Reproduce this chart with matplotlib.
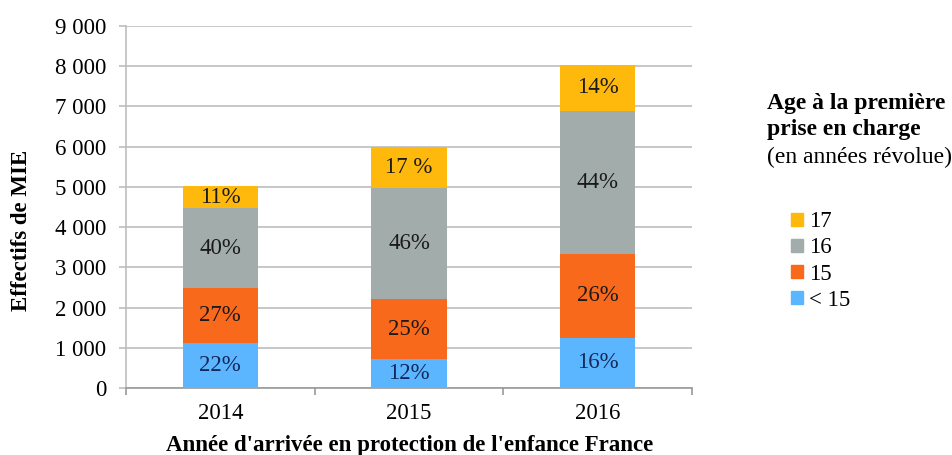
import numpy as np
import matplotlib.pyplot as plt
from matplotlib.patches import Patch

plt.rcParams['font.family'] = ['Liberation Serif', 'DejaVu Serif']

annees = ['2014', '2015', '2016']
moins_15 = [1130, 720, 1250]
age_15 = [1360, 1490, 2080]
age_16 = [1980, 2770, 3560]
age_17 = [550, 1010, 1150]
series = [moins_15, age_15, age_16, age_17]
noms = ['< 15', '15', '16', '17']
pourcents = [['22%', '12%', '16%'],
             ['27%', '25%', '26%'],
             ['40%', '46%', '44%'],
             ['11%', '17 %', '14%']]
couleurs = ['#5cb6ff', '#f9691c', '#a2acaa', '#ffb90d']
couleurs_txt = ['#14285a', '#1a1a1a', '#1a1a1a', '#1a1a1a']

fig = plt.figure(figsize=(9.53, 4.55), dpi=100)
ax = fig.add_axes([126/953, 67/455, 566/953, 362/455])

x = np.arange(len(annees))
bas = np.zeros(len(annees))
for vals, c, ct, lab in zip(series, couleurs, couleurs_txt, pourcents):
    ax.bar(x, vals, 0.4, bottom=bas, color=c, zorder=3)
    for i in range(len(annees)):
        ax.text(x[i], bas[i] + vals[i] / 2, lab[i], ha='center', va='center',
                fontsize=16.5, color=ct, zorder=4)
    bas += vals

ax.set_xlim(-0.5, 2.5)
ax.set_ylim(0, 9000)
ax.set_yticks(np.arange(0, 9001, 1000))
ax.set_yticklabels(['{:,}'.format(v).replace(',', ' ') for v in range(0, 9001, 1000)])
ax.yaxis.grid(True, color='#bdbdbd', linewidth=1.2, zorder=0)
ax.set_xticks(x)
ax.set_xticklabels(annees)
ax.set_xticks([-0.5, 0.5, 1.5, 2.5], minor=True)
ax.tick_params(axis='x', which='major', length=0, pad=11, labelsize=16.5)
ax.tick_params(axis='x', which='minor', length=5, color='#9a9a9a', width=1.2)
ax.tick_params(axis='y', length=5, color='#bdbdbd', width=1.2, pad=9, labelsize=16.5)
for s in ['top', 'right']:
    ax.spines[s].set_visible(False)
ax.spines['left'].set_color('#bdbdbd')
ax.spines['left'].set_linewidth(1.2)
ax.spines['bottom'].set_color('#9a9a9a')
ax.spines['bottom'].set_linewidth(1.2)

fig.text(410/953, 1 - 445/455, "Année d'arrivée en protection de l'enfance France",
         ha='center', va='center', fontsize=16.5, fontweight='bold')
fig.text(22/953, 1 - 230/455, 'Effectifs de MIE', rotation=90,
         ha='center', va='center', fontsize=16.5, fontweight='bold')

fig.text(767/953, 1 - 103/455, 'Age à la première', ha='left', va='center',
         fontsize=17, fontweight='bold')
fig.text(767/953, 1 - 130/455, 'prise en charge', ha='left', va='center',
         fontsize=17, fontweight='bold')
fig.text(767/953, 1 - 157/455, '(en années révolue)', ha='left', va='center',
         fontsize=17)

handles = [Patch(color=couleurs[i]) for i in [3, 2, 1, 0]]
labels = [noms[i] for i in [3, 2, 1, 0]]
fig.legend(handles, labels, loc='upper left', bbox_to_anchor=(780/953, 1 - 200/455),
           frameon=False, fontsize=16.5, handlelength=0.5, handleheight=0.5,
           handletextpad=0.25, labelspacing=0.22, borderpad=0)

fig.savefig('out.png', dpi=100)
